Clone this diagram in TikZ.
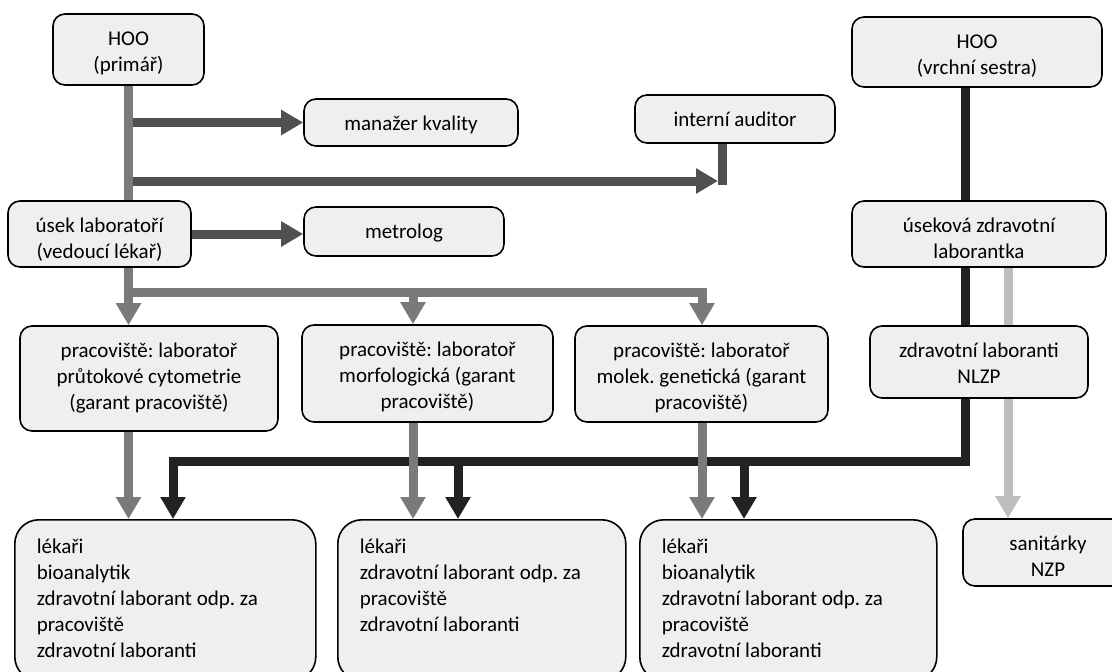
\documentclass[tikz,border=0pt]{standalone}
\usepackage{fontspec}
\setmainfont{Carlito}
\frenchspacing
\usetikzlibrary{arrows.meta, backgrounds}

\definecolor{boxfill}{RGB}{239,239,239}
\definecolor{linegray}{RGB}{122,122,122}
\definecolor{linedark}{RGB}{80,80,80}
\definecolor{lineblack}{RGB}{34,34,34}
\definecolor{linelight}{RGB}{190,190,190}

% text at the top of a box: width, height, text
\newcommand{\boxtxt}[3]{\parbox[c][#2][t]{#1}{\centering\rule{0pt}{31pt}#3}}
\newcommand{\teamtxt}[3]{\parbox[c][#2][t]{#1}{\leftskip=22pt\rule{0pt}{34pt}#3}}

\begin{document}
\begin{tikzpicture}[x=1pt, y=-1pt,
  box/.style={draw=black, line width=1.6pt, fill=boxfill, rounded corners=12pt,
    inner sep=0pt, font=\fontsize{21}{26}\selectfont},
  team/.style={box, rounded corners=24pt, anchor=north west},
  conn/.style={line width=9pt, line join=miter},
  tip/.style={conn, -{Triangle[width=24pt,length=22pt]}}]

\useasboundingbox (0,0) rectangle (1112,672);
\clip (0,0) rectangle (1112,672);

% vedeni
\node[box] (hoo) at (128.5,49.5) {\boxtxt{151pt}{71pt}{HOO\\(primář)}};
\node[box] (kval) at (411,122.5) {\boxtxt{214pt}{47pt}{manažer kvality}};
\node[box] (audit) at (735,119) {\boxtxt{200pt}{48pt}{interní auditor}};
\node[box] (hoos) at (977,52) {\boxtxt{250pt}{70pt}{HOO\\(vrchní sestra)}};
\node[box] (usek) at (99.5,234) {\boxtxt{183pt}{66pt}{úsek laboratoří\\(vedoucí lékař)}};
\node[box] (metro) at (404,231.5) {\boxtxt{200pt}{49pt}{metrolog}};
\node[box] (uzl) at (979,234) {\boxtxt{254pt}{66pt}{úseková zdravotní\\laborantka}};

% pracoviste
\node[box] (prac1) at (149,378.5) {\boxtxt{258pt}{105pt}{pracoviště: laboratoř\\průtokové cytometrie\\(garant pracoviště)}};
\node[box] (prac2) at (427.5,373.5) {\boxtxt{251pt}{97pt}{pracoviště: laboratoř\\morfologická (garant\\pracoviště)}};
\node[box] (prac3) at (701.5,374) {\boxtxt{253pt}{96pt}{pracoviště: laboratoř\\molek. genetická (garant\\pracoviště)}};
\node[box] (nlzp) at (979,362) {\boxtxt{218pt}{72pt}{zdravotní laboranti\\NLZP}};

% tymy
\node[team] (team1) at (14,519) {\teamtxt{301pt}{161pt}{lékaři\\bioanalytik\\zdravotní laborant odp. za\\pracoviště\\zdravotní laboranti}};
\node[team] (team2) at (337,519) {\teamtxt{288pt}{161pt}{lékaři\\zdravotní laborant odp. za\\pracoviště\\zdravotní laboranti}};
\node[team] (team3) at (639,519) {\teamtxt{297pt}{161pt}{lékaři\\bioanalytik\\zdravotní laborant odp. za\\pracoviště\\zdravotní laboranti}};
\node[box] (sanit) at (1048,552.5) {\boxtxt{170pt}{67pt}{sanitárky\\NZP}};

\coordinate (ia) at (718,181);
\coordinate (iaup) at (722,185);
\coordinate (bus) at (128.5,292);
\coordinate (b2) at (413,292);
\coordinate (b3) at (702,292);
\coordinate (kb) at (965,461);
\coordinate (k1) at (173,461);
\coordinate (k2) at (458,461);
\coordinate (k3) at (744,461);
\coordinate (s) at (1008,461);

\begin{scope}[on background layer]
% sestry
\draw[conn, lineblack] (kb |- hoos.south) -- (kb |- uzl.north);
\draw[conn, lineblack] (kb |- uzl.south) -- (kb |- nlzp.north);
\draw[tip, lineblack] (kb |- nlzp.south) -- (kb) -- (k1) -- (k1 |- team1.north);
\draw[tip, lineblack] (k2) -- (k2 |- team2.north);
\draw[tip, lineblack] (k3) -- (k3 |- team3.north);
\draw[tip, linelight] (s |- uzl.south) -- (s |- sanit.north);

% lekari
\draw[tip, linedark] (hoo |- kval) -- (kval.west);
\draw[tip, linedark] (hoo |- ia) -- (ia);
\draw[conn, linedark] (iaup |- audit.south) -- (iaup);
\draw[conn, linegray] (hoo.south) -- (hoo |- usek.north);
\draw[tip, linedark] (usek.east) -- (usek.east -| metro.west);

\draw[tip, linegray] (hoo |- usek.south) -- (hoo |- prac1.north);
\draw[tip, linegray] (bus) -- (b3) -- (b3 |- prac3.north);
\draw[tip, linegray] (b2) -- (b2 |- prac2.north);
\draw[tip, linegray] (hoo |- prac1.south) -- (hoo |- team1.north);
\draw[tip, linegray] (b2 |- prac2.south) -- (b2 |- team2.north);
\draw[tip, linegray] (b3 |- prac3.south) -- (b3 |- team3.north);
\end{scope}
\end{tikzpicture}
\end{document}
